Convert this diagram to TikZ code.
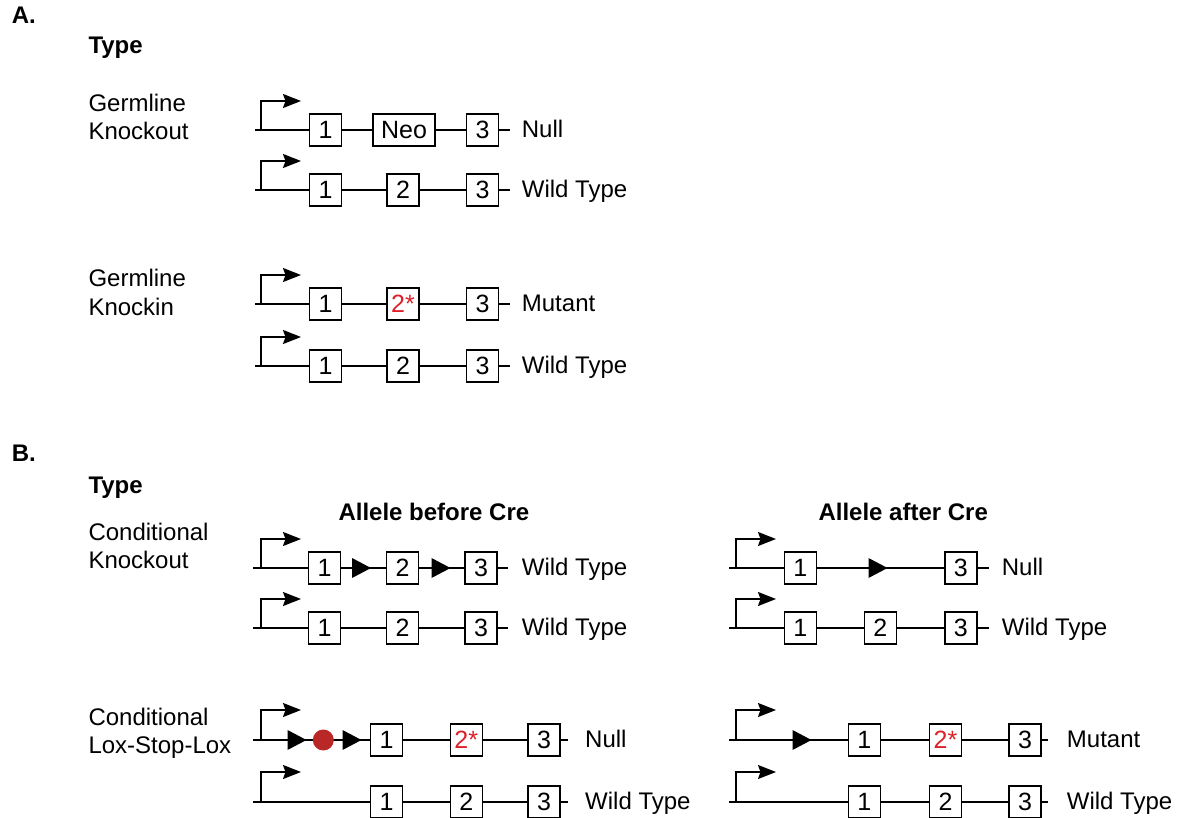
\documentclass[tikz,border=0pt]{standalone}
\usepackage{fontspec}
\setmainfont{Liberation Sans}
\usetikzlibrary{arrows.meta}
\definecolor{mutred}{RGB}{222,32,40}
\definecolor{stopred}{RGB}{185,40,38}
\tikzset{
  exon/.style={draw, line width=1.5pt, fill=white, minimum width=32pt, minimum height=32pt, inner sep=0pt, font=\fontsize{25}{28}\selectfont},
  wideexon/.style={exon, minimum width=62pt},
  mut/.style={text=mutred},
  lbl/.style={anchor=base west, inner sep=0pt, font=\fontsize{24}{27}\selectfont},
  hdr/.style={anchor=base west, inner sep=0pt, font=\fontsize{24}{27}\selectfont\bfseries},
  backbone/.style={line width=1.6pt},
  prom/.style={line width=1.6pt, -{Stealth[length=18pt,width=14pt,inset=2.5pt]}},
}
\newcommand\loxtri[2]{\fill (#1-9.5,#2-10) -- (#1+9.5,#2) -- (#1-9.5,#2+10) -- cycle;}
\begin{document}
\begin{tikzpicture}[x=1pt,y=-1pt]
\useasboundingbox (0,0) rectangle (1180,818);
\fill[white] (0,0) rectangle (1180,818);

% ---------- headings and left labels ----------
\node[hdr] (hA) at (11.7,23.3) {A.};
\node[hdr] (tA) at (88.3,53.3) {Type};
\node[lbl] (gk1) at (88.3,111.7) {Germline};
\node[lbl] (gk2) at (88.3,140) {Knockout};
\node[lbl] (gi1) at (88.3,286.7) {Germline};
\node[lbl] (gi2) at (88.3,315) {Knockin};
\node[hdr] (hB) at (11.7,461.7) {B.};
\node[hdr] (tB) at (88.3,493.3) {Type};
\node[lbl] (ck1) at (88.3,540) {Conditional};
\node[lbl] (ck2) at (88.3,568.3) {Knockout};
\node[lbl] (cl1) at (88.3,725) {Conditional};
\node[lbl] (cl2) at (88.3,753.3) {Lox-Stop-Lox};
\node[hdr] (hbef) at (338.3,520) {Allele before Cre};
\node[hdr] (haft) at (818.3,520) {Allele after Cre};

% ---------- A: germline knockout ----------
\coordinate (s1) at (255,130); \coordinate (e1) at (510,130);
\draw[backbone] (s1) -- (e1);
\coordinate (p1) at (261,130);
\draw[prom] (p1) -- ++(0,-29) -- ++(40,0);
\node[exon] (r1a) at (325.5,130) {1};
\node[wideexon] (r1b) at (404,130) {Neo};
\node[exon] (r1c) at (482.5,130) {3};
\node[lbl] (l1) at (521.7,137.5) {Null};

\coordinate (s2) at (255,190); \coordinate (e2) at (510,190);
\draw[backbone] (s2) -- (e2);
\coordinate (p2) at (261,190);
\draw[prom] (p2) -- ++(0,-29) -- ++(40,0);
\node[exon] (r2a) at (325.5,190) {1};
\node[exon] (r2b) at (403,190) {2};
\node[exon] (r2c) at (482.5,190) {3};
\node[lbl] (l2) at (521.7,197.5) {Wild Type};

% ---------- A: germline knockin ----------
\coordinate (s3) at (255,304); \coordinate (e3) at (510,304);
\draw[backbone] (s3) -- (e3);
\coordinate (p3) at (261,304);
\draw[prom] (p3) -- ++(0,-29) -- ++(40,0);
\node[exon] (r3a) at (325.5,304) {1};
\node[exon,mut] (r3b) at (403,304) {2*};
\node[exon] (r3c) at (482.5,304) {3};
\node[lbl] (l3) at (521.7,311.5) {Mutant};

\coordinate (s4) at (255,366); \coordinate (e4) at (510,366);
\draw[backbone] (s4) -- (e4);
\coordinate (p4) at (261,366);
\draw[prom] (p4) -- ++(0,-29) -- ++(40,0);
\node[exon] (r4a) at (325.5,366) {1};
\node[exon] (r4b) at (403,366) {2};
\node[exon] (r4c) at (482.5,366) {3};
\node[lbl] (l4) at (521.7,373.5) {Wild Type};

% ---------- B: conditional knockout, before Cre ----------
\coordinate (s5) at (253,568); \coordinate (e5) at (508,568);
\draw[backbone] (s5) -- (e5);
\coordinate (p5) at (261,568);
\draw[prom] (p5) -- ++(0,-29) -- ++(40,0);
\node[exon] (r5a) at (324.5,568) {1};
\loxtri{361.5}{568}
\node[exon] (r5b) at (402.5,568) {2};
\loxtri{441}{568}
\node[exon] (r5c) at (481,568) {3};
\node[lbl] (l5) at (521.7,575.5) {Wild Type};

\coordinate (s6) at (253,628); \coordinate (e6) at (508,628);
\draw[backbone] (s6) -- (e6);
\coordinate (p6) at (261,628);
\draw[prom] (p6) -- ++(0,-29) -- ++(40,0);
\node[exon] (r6a) at (324.5,628) {1};
\node[exon] (r6b) at (402.5,628) {2};
\node[exon] (r6c) at (481,628) {3};
\node[lbl] (l6) at (521.7,635.5) {Wild Type};

% ---------- B: conditional knockout, after Cre ----------
\coordinate (s7) at (729,568); \coordinate (e7) at (989,568);
\draw[backbone] (s7) -- (e7);
\coordinate (p7) at (736,568);
\draw[prom] (p7) -- ++(0,-29) -- ++(40,0);
\node[exon] (r7a) at (800.3,568) {1};
\loxtri{878}{568}
\node[exon] (r7c) at (960.8,568) {3};
\node[lbl] (l7) at (1001.7,575.5) {Null};

\coordinate (s8) at (729,628); \coordinate (e8) at (989,628);
\draw[backbone] (s8) -- (e8);
\coordinate (p8) at (736,628);
\draw[prom] (p8) -- ++(0,-29) -- ++(40,0);
\node[exon] (r8a) at (800.3,628) {1};
\node[exon] (r8b) at (880.3,628) {2};
\node[exon] (r8c) at (960.8,628) {3};
\node[lbl] (l8) at (1001.7,635.5) {Wild Type};

% ---------- B: lox-stop-lox, before Cre ----------
\coordinate (s9) at (253,740); \coordinate (e9) at (568,740);
\draw[backbone] (s9) -- (e9);
\coordinate (p9) at (261,740);
\draw[prom] (p9) -- ++(0,-30) -- ++(40,0);
\loxtri{297}{740}
\fill[stopred] (323.3,740) circle (10.5);
\loxtri{352}{740}
\node[exon] (r9a) at (386.5,740) {1};
\node[exon,mut] (r9b) at (466.3,740) {2*};
\node[exon] (r9c) at (544,740) {3};
\node[lbl] (l9) at (585,747.5) {Null};

\coordinate (s10) at (253,802); \coordinate (e10) at (568,802);
\draw[backbone] (s10) -- (e10);
\coordinate (p10) at (261,802);
\draw[prom] (p10) -- ++(0,-30) -- ++(40,0);
\node[exon] (r10a) at (386.5,802) {1};
\node[exon] (r10b) at (466.3,802) {2};
\node[exon] (r10c) at (544,802) {3};
\node[lbl] (l10) at (585,809.5) {Wild Type};

% ---------- B: lox-stop-lox, after Cre ----------
\coordinate (s11) at (729,740); \coordinate (e11) at (1048,740);
\draw[backbone] (s11) -- (e11);
\coordinate (p11) at (736,740);
\draw[prom] (p11) -- ++(0,-30) -- ++(40,0);
\loxtri{802}{740}
\node[exon] (r11a) at (864.3,740) {1};
\node[exon,mut] (r11b) at (945.5,740) {2*};
\node[exon] (r11c) at (1025,740) {3};
\node[lbl] (l11) at (1066.7,747.5) {Mutant};

\coordinate (s12) at (729,802); \coordinate (e12) at (1048,802);
\draw[backbone] (s12) -- (e12);
\coordinate (p12) at (736,802);
\draw[prom] (p12) -- ++(0,-30) -- ++(40,0);
\node[exon] (r12a) at (864.3,802) {1};
\node[exon] (r12b) at (945.5,802) {2};
\node[exon] (r12c) at (1025,802) {3};
\node[lbl] (l12) at (1066.7,809.5) {Wild Type};
\end{tikzpicture}
\end{document}
